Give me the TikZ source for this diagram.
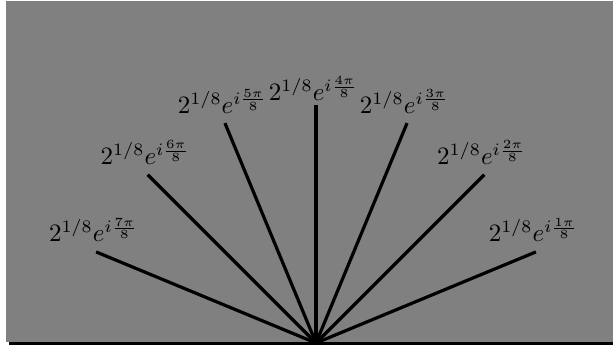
\documentclass[tikz,border=0pt]{standalone}
\usetikzlibrary{calc}
\begin{document}
\begin{tikzpicture}[x=1pt,y=1pt,
  ray/.style={line width=3.2pt,black},
  lbl/.style={anchor=base,inner sep=0pt}]
\useasboundingbox (0,0) rectangle (613,347);
\fill[black!50] (6,5) rectangle (613,346);
\coordinate (L) at (9,3.5);
\coordinate (R) at (613,3.5);
\draw[line width=3pt] (L) -- (R);
\coordinate (O) at (316,4);
\foreach \k/\g in {1/10,2/10,3/10,4/4.5,5/10,6/10,7/10}{
  \coordinate (E\k) at ($(O)+({\k*22.5}:238)$);
  \draw[ray] (O) -- (E\k);
  \node[lbl] (N\k) at ($(E\k)+(-2.5,\g)$) {\scalebox{2.5}{$2^{1/8}e^{i\frac{\k\pi}{8}}$}};
}
\end{tikzpicture}
\end{document}
